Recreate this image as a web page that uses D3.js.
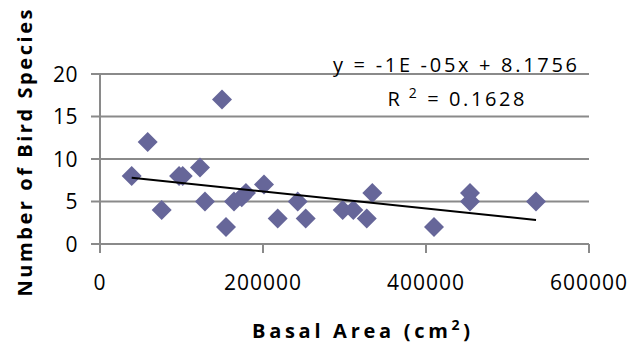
<!DOCTYPE html>
<html>
<head>
<meta charset="utf-8">
<script src="https://cdn.jsdelivr.net/npm/d3@7"></script>
<style>
  body { margin: 0; background: #fff; }
  text { font-family: "Open Sans", "Noto Sans", sans-serif; fill: #000; }
</style>
</head>
<body>
<svg id="chart" width="630" height="345"></svg>
<script>
// Basal area (cm2) and number of bird species
let basalArea = [38900, 58500, 75700, 97000, 101500, 122700, 128800, 149700, 154600, 164400, 173900, 179100,
                 201200, 218000, 242600, 252400, 297800, 310800, 327300, 334100, 409800, 454000, 454000, 535000];
let birdSpecies = [8, 12, 4, 8, 8, 9, 5, 17, 2, 5, 5.5, 6,
                   7, 3, 5, 3, 4, 4, 3, 6, 2, 6, 5, 5];

let xTicks = [0, 200000, 400000, 600000];
let yTicks = [0, 5, 10, 15, 20];

// trendline as printed on the chart
let slope = -1e-5;
let intercept = 8.1756;

let points = basalArea.map((x, i) => ({x: x, y: birdSpecies[i]}));

let svg = d3.select('#chart');

let xScale = d3.scaleLinear().domain([0, 600000]).range([100, 589]);
let yScale = d3.scaleLinear().domain([0, 20]).range([244, 74]);

// Gridlines
svg.append('g')
    .selectAll('line')
    .data(yTicks)
    .join('line')
    .attr('x1', 91)
    .attr('x2', 589)
    .attr('y1', d => yScale(d))
    .attr('y2', d => yScale(d))
    .attr('stroke', '#8a8a8a')
    .attr('stroke-width', 2);

// Y axis line
svg.append('line')
    .attr('x1', 100).attr('x2', 100)
    .attr('y1', yScale(20)).attr('y2', yScale(0) + 9)
    .attr('stroke', '#8a8a8a')
    .attr('stroke-width', 2);

// X axis ticks
svg.append('g')
    .selectAll('line')
    .data(xTicks)
    .join('line')
    .attr('x1', d => xScale(d))
    .attr('x2', d => xScale(d))
    .attr('y1', yScale(0))
    .attr('y2', yScale(0) + 9)
    .attr('stroke', '#8a8a8a')
    .attr('stroke-width', 2);

// Y tick labels
svg.append('g')
    .selectAll('text')
    .data(yTicks)
    .join('text')
    .attr('x', 78)
    .attr('y', d => yScale(d))
    .attr('dy', '0.36em')
    .attr('text-anchor', 'end')
    .attr('font-size', 21)
    .style('letter-spacing', '0.5px')
    .text(d => d);

// X tick labels
svg.append('g')
    .selectAll('text')
    .data(xTicks)
    .join('text')
    .attr('x', d => xScale(d))
    .attr('y', 290)
    .attr('text-anchor', 'middle')
    .attr('font-size', 21)
    .style('letter-spacing', '1px')
    .text(d => d);

// Points
let r = 10;
svg.append('g')
    .selectAll('path')
    .data(points)
    .join('path')
    .attr('transform', d => `translate(${xScale(d.x)},${yScale(d.y)})`)
    .attr('d', `M0,${-r}L${r},0L0,${r}L${-r},0Z`)
    .attr('fill', '#666699');

// Trendline across the data range
let xMin = d3.min(basalArea);
let xMax = d3.max(basalArea);
svg.append('line')
    .attr('x1', xScale(xMin))
    .attr('y1', yScale(slope * xMin + intercept))
    .attr('x2', xScale(xMax))
    .attr('y2', yScale(slope * xMax + intercept))
    .attr('stroke', '#000')
    .attr('stroke-width', 2);

// Equation and R squared
svg.append('text')
    .attr('x', 455)
    .attr('y', 72)
    .attr('text-anchor', 'middle')
    .attr('font-size', 20)
    .attr('textLength', 244)
    .attr('lengthAdjust', 'spacing')
    .text('y = -1E -05x + 8.1756');

let r2 = svg.append('text')
    .attr('x', 456)
    .attr('y', 106)
    .attr('text-anchor', 'middle')
    .attr('font-size', 20)
    .attr('textLength', 137)
    .attr('lengthAdjust', 'spacing');
r2.append('tspan').text('R');
r2.append('tspan').attr('dy', -8).attr('font-size', 14).text(' 2');
r2.append('tspan').attr('dy', 8).text(' = 0.1628');

// Axis titles
let xt = svg.append('text')
    .attr('x', 361)
    .attr('y', 338)
    .attr('text-anchor', 'middle')
    .attr('font-size', 20)
    .attr('font-weight', 'bold')
    .attr('textLength', 218)
    .attr('lengthAdjust', 'spacing');
xt.append('tspan').text('Basal Area (cm');
xt.append('tspan').attr('dy', -8).attr('font-size', 14).text('2');
xt.append('tspan').attr('dy', 8).text(')');

svg.append('text')
    .attr('transform', 'translate(32,153) rotate(-90)')
    .attr('text-anchor', 'middle')
    .attr('font-size', 20)
    .attr('font-weight', 'bold')
    .attr('textLength', 287)
    .attr('lengthAdjust', 'spacing')
    .text('Number of Bird Species');
</script>
</body>
</html>
